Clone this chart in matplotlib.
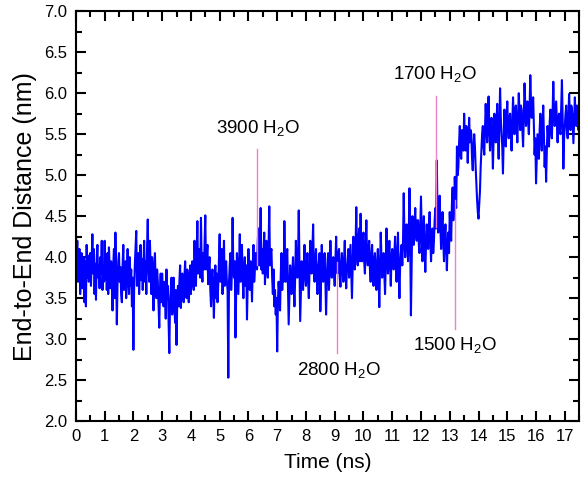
import numpy as np
import matplotlib
matplotlib.use("Agg")
import matplotlib.pyplot as plt
from matplotlib.ticker import MultipleLocator, FormatStrFormatter

plt.rcParams['font.family'] = ['Liberation Sans', 'DejaVu Sans']
plt.rcParams['mathtext.default'] = 'regular'

# end-to-end distance (nm), one value every 0.025 ns (20 per row = 0.5 ns)
dt = 0.025
distance = [
    4.38, 3.90, 4.20, 3.70, 3.95, 4.10, 3.55, 3.85, 4.05, 3.62, 3.80, 4.00, 3.45, 3.95, 3.40, 4.15, 3.75, 4.02, 3.70, 3.90,
    4.05, 3.65, 3.95, 4.28, 3.80, 4.10, 3.55, 3.92, 3.48, 4.00, 4.15, 3.75, 3.90, 3.62, 4.00, 3.80, 4.20, 3.60, 3.85, 3.70,
    4.20, 3.72, 3.98, 3.60, 4.05, 3.55, 4.12, 3.85, 3.62, 3.95, 3.78, 3.35, 3.90, 4.10, 3.50, 4.30, 3.80, 3.18, 3.70, 3.95,
    4.05, 3.70, 3.88, 3.55, 3.45, 3.90, 4.15, 3.60, 3.85, 3.95, 3.50, 3.80, 4.10, 3.70, 3.55, 4.00, 3.65, 3.85, 3.40, 3.75,
    2.87, 3.60, 3.90, 4.10, 4.32, 3.65, 3.95, 4.05, 3.55, 3.85, 4.15, 3.72, 3.98, 3.60, 3.90, 4.20, 3.70, 3.95, 3.55, 4.10,
    4.46, 3.90, 3.70, 4.20, 3.85, 3.55, 4.00, 3.75, 3.35, 3.90, 4.05, 3.65, 3.50, 3.85, 3.70, 3.40, 3.14, 3.60, 3.80, 3.45,
    3.80, 3.55, 3.40, 3.70, 3.60, 3.25, 3.85, 3.50, 3.65, 3.20, 2.83, 3.45, 3.60, 3.75, 3.30, 3.55, 3.75, 3.40, 3.20, 3.60,
    2.93, 3.45, 3.65, 3.40, 3.70, 3.90, 3.38, 3.60, 3.80, 3.55, 3.45, 3.75, 3.95, 3.60, 3.50, 3.85, 3.72, 3.45, 3.65, 3.90,
    3.55, 3.80, 3.95, 3.70, 3.60, 4.20, 3.85, 3.65, 4.05, 4.44, 3.80, 3.95, 4.10, 3.75, 4.48, 3.90, 3.70, 4.05, 3.85, 4.15,
    4.51, 3.85, 4.00, 4.15, 3.67, 3.90, 4.00, 3.60, 3.40, 3.75, 3.85, 3.55, 3.26, 3.70, 3.90, 3.50, 3.80, 3.45, 3.65, 3.95,
    4.28, 3.70, 3.90, 4.10, 3.55, 3.85, 4.20, 3.65, 3.80, 3.95, 3.70, 3.60, 2.53, 3.70, 3.90, 4.05, 3.60, 3.80, 4.48, 3.85,
    3.75, 3.95, 3.02, 3.60, 4.05, 3.80, 3.55, 3.90, 4.28, 3.70, 3.95, 4.15, 3.75, 3.50, 3.85, 4.00, 3.65, 3.90, 3.24, 3.70,
    4.10, 3.80, 3.60, 3.95, 3.75, 3.46, 3.90, 4.15, 3.70, 3.85, 4.05, 3.95, 3.85, 4.20, 4.35, 3.90, 4.05, 4.60, 3.85, 4.10,
    3.80, 4.05, 4.30, 3.67, 3.95, 4.20, 3.85, 3.75, 4.10, 4.62, 3.90, 4.05, 4.10, 3.75, 3.55, 3.85, 3.40, 3.60, 3.30, 3.50,
    2.85, 3.45, 3.70, 3.55, 3.35, 3.80, 4.05, 3.60, 3.85, 3.70, 4.44, 3.90, 3.70, 3.95, 4.10, 3.65, 3.18, 3.55, 3.90, 3.70,
    3.55, 3.80, 4.00, 3.65, 3.40, 3.75, 4.20, 3.90, 3.75, 3.95, 4.57, 3.85, 3.22, 3.60, 3.95, 3.80, 3.60, 3.90, 4.15, 3.75,
    3.65, 3.90, 4.05, 3.70, 3.50, 3.85, 4.20, 3.95, 3.80, 4.10, 4.40, 3.85, 3.70, 3.95, 4.10, 3.80, 3.55, 3.85, 3.95, 4.05,
    3.34, 3.70, 4.15, 3.85, 3.70, 3.95, 4.05, 3.75, 3.30, 3.70, 3.95, 4.05, 3.60, 3.85, 4.20, 3.90, 3.75, 3.95, 4.00, 3.80,
    3.65, 3.95, 4.25, 3.85, 3.80, 4.05, 4.10, 3.75, 3.64, 3.90, 4.05, 3.85, 3.70, 3.95, 4.20, 3.80, 3.62, 3.85, 3.95, 4.10,
    3.75, 3.95, 4.15, 3.80, 3.50, 3.85, 4.25, 4.00, 3.85, 4.10, 4.61, 4.05, 3.90, 4.20, 4.35, 3.95, 4.53, 4.10, 3.95, 4.20,
    4.30, 3.95, 3.80, 4.15, 4.45, 4.00, 3.90, 4.10, 4.20, 3.85, 3.70, 4.00, 4.15, 3.90, 3.65, 3.95, 4.05, 3.80, 3.60, 3.90,
    4.10, 3.80, 3.39, 3.85, 4.30, 4.00, 3.75, 3.95, 4.05, 3.80, 3.55, 3.90, 4.35, 4.05, 3.80, 3.95, 4.20, 3.90, 3.65, 4.00,
    4.10, 3.90, 3.85, 4.05, 4.25, 3.95, 3.70, 4.00, 4.30, 3.85, 3.50, 3.90, 4.05, 4.15, 3.90, 4.20, 4.78, 4.25, 4.00, 4.30,
    4.40, 4.10, 3.95, 4.30, 4.84, 4.20, 3.29, 3.90, 4.50, 4.25, 4.15, 4.40, 4.60, 4.30, 4.20, 4.45, 4.45, 4.15, 4.05, 4.35,
    4.74, 4.30, 3.95, 4.20, 4.50, 4.10, 3.82, 4.15, 4.40, 4.25, 4.10, 4.35, 4.55, 4.20, 3.95, 4.25, 4.35, 4.05, 4.20, 4.45,
    4.60, 4.35, 5.18, 4.50, 4.30, 4.60, 4.75, 4.35, 4.10, 4.40, 4.55, 4.20, 3.95, 4.25, 4.40, 4.10, 3.84, 4.15, 4.30, 4.05,
    4.55, 4.30, 4.20, 4.65, 4.85, 4.45, 4.60, 4.98, 4.70, 4.60, 5.35, 5.00, 5.10, 5.40, 5.60, 5.25, 5.20, 5.55, 5.45, 5.30,
    5.75, 5.45, 5.30, 5.60, 5.50, 5.15, 5.45, 5.70, 5.40, 5.55, 5.50, 5.20, 5.06, 5.35, 5.50, 5.35, 5.10, 4.90, 4.70, 4.55,
    4.47, 4.65, 4.80, 5.10, 5.30, 5.50, 5.60, 5.35, 5.25, 5.55, 5.87, 5.60, 5.40, 5.70, 5.96, 5.55, 5.30, 5.50, 5.70, 5.45,
    5.08, 5.45, 5.75, 5.55, 5.40, 5.65, 5.87, 5.50, 5.20, 5.60, 6.06, 5.70, 5.50, 5.35, 5.02, 5.45, 5.80, 5.60, 5.35, 5.70,
    5.90, 5.60, 5.45, 5.70, 5.75, 5.50, 5.30, 5.65, 5.95, 5.70, 5.50, 5.80, 5.85, 5.60, 5.40, 5.70, 6.00, 5.75, 5.55, 5.85,
    5.80, 5.55, 5.35, 5.70, 6.12, 5.85, 5.60, 5.75, 5.90, 5.65, 5.50, 5.80, 6.22, 5.90, 5.70, 5.85, 5.95, 5.60, 5.25, 5.45,
    4.90, 5.20, 5.50, 5.35, 5.20, 5.55, 5.75, 5.45, 5.30, 5.60, 5.85, 5.50, 5.10, 5.35, 4.92, 5.30, 5.60, 5.45, 5.35, 5.65,
    5.80, 5.55, 5.45, 5.75, 6.14, 5.80, 5.60, 5.75, 5.90, 5.65, 5.40, 5.70, 5.75, 5.55, 5.50, 5.85, 6.16, 5.70, 5.08, 5.45,
    5.60, 5.75, 5.85, 5.55, 5.45, 5.70, 5.99, 5.75, 5.55, 5.85, 5.80, 5.60, 5.39, 5.65, 5.95, 5.70, 5.60, 5.85, 5.75, 5.55,
    5.65,
]
time = np.arange(len(distance)) * dt

# water-count markers: time, line start, line end, label position
marker_labels = ["3900 H$_2$O", "2800 H$_2$O", "1700 H$_2$O", "1500 H$_2$O"]
marker_times = [6.29, 9.08, 12.52, 13.18]
marker_y0 = [3.91, 2.83, 4.37, 3.13]
marker_y1 = [5.32, 3.94, 5.96, 4.70]
label_x = [6.35, 9.15, 12.5, 13.2]
label_y = [5.58, 2.62, 6.24, 2.93]

fig, ax = plt.subplots(figsize=(5.88, 4.88), dpi=100)
fig.subplots_adjust(left=0.129, right=0.985, bottom=0.137, top=0.977)

ax.plot(time, distance, color='#0000ff', linewidth=1.5)

for t, y0, y1 in zip(marker_times, marker_y0, marker_y1):
    ax.plot([t, t], [y0, y1], color='#f07fcf', linewidth=1.0)
for lab, x, y in zip(marker_labels, label_x, label_y):
    ax.text(x, y, lab, ha='center', va='center', fontsize=13.5)

ax.set_xlim(0, 17.5)
ax.set_ylim(2.0, 7.0)
ax.xaxis.set_major_locator(MultipleLocator(1))
ax.xaxis.set_minor_locator(MultipleLocator(0.5))
ax.yaxis.set_major_locator(MultipleLocator(0.5))
ax.yaxis.set_minor_locator(MultipleLocator(0.25))
ax.yaxis.set_major_formatter(FormatStrFormatter('%.1f'))

ax.tick_params(which='both', direction='in', top=True, right=True, width=1.5, labelsize=12)
ax.tick_params(which='major', length=7, pad=6)
ax.tick_params(which='minor', length=4)
for s in ax.spines.values():
    s.set_linewidth(1.5)

ax.set_xlabel("Time (ns)", fontsize=15, labelpad=6)
ax.set_ylabel("End-to-End Distance (nm)", fontsize=18, labelpad=5)

fig.savefig("out.png", dpi=100)
